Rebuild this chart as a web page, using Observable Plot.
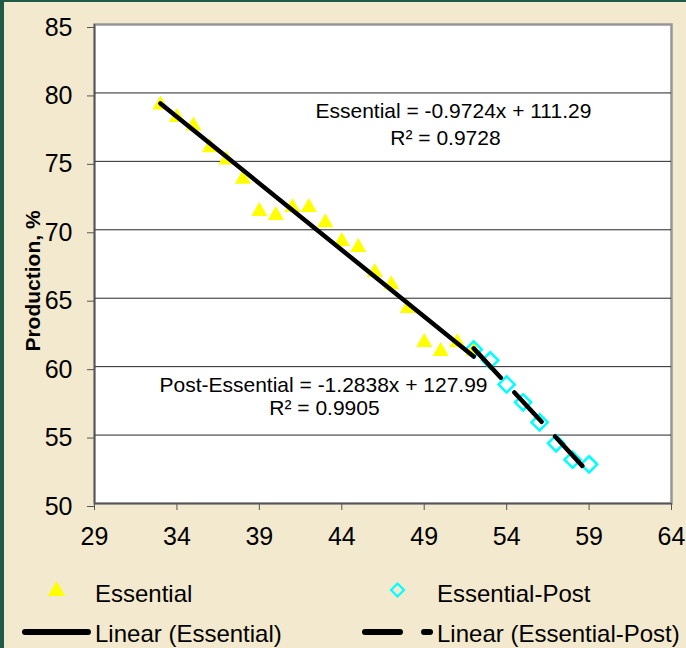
<!DOCTYPE html>
<html><head><meta charset="utf-8">
<script src="https://cdn.jsdelivr.net/npm/d3@7"></script>
<script src="https://cdn.jsdelivr.net/npm/@observablehq/plot@0.6"></script>
<style>
html,body{margin:0;padding:0;background:#F3E9CE;}
#wrap{position:relative;width:686px;height:648px;overflow:hidden;background:#F3E9CE;font-family:"Liberation Sans",Arial,sans-serif;}
#border{position:absolute;left:0;top:0;width:686px;height:648px;box-sizing:border-box;border-top:2px solid #1F5A46;border-left:4px solid #1F5A46;pointer-events:none;}
#chart{position:absolute;left:0;top:0;}
#legend{position:absolute;left:0;top:560px;}
</style></head><body>
<div id="wrap"><div id="chart"></div><svg id="legend" width="686" height="88"></svg><div id="border"></div></div>
<script>
// ---- data ----
const essentialX = [33,34,35,36,37,38,39,40,41,42,43,44,45,46,47,48,49,50,51,52];
const essentialY = [79.27,78.37,77.75,76.16,75.25,73.85,71.49,71.2,71.78,71.78,70.68,69.3,68.86,67.03,66.15,64.4,61.92,61.26,61.92,61.26];
const postX = [52,53,54,55,56,57,58,59];
const postY = [61.26,60.46,58.7,57.39,55.93,54.4,53.2,52.86];
const xTicks = [29,34,39,44,49,54,59,64];
const yTicks = [50,55,60,65,70,75,80,85];
const gridY = [55,60,65,70,75,80];
const yTitle = "Production, %";
const equationText = ["Essential = -0.9724x + 111.29","R\u00B2 = 0.9728","Post-Essential = -1.2838x + 127.99","R\u00B2 = 0.9905"];
const equationX = [50.77,50.29,42.89,42.95];
const equationY = [78.68,76.71,58.67,56.99];
const legendNames = ["Essential","Essential-Post","Linear (Essential)","Linear (Essential-Post)"];

// ---- tables ----
const essential = essentialX.map((x,i)=>({x, y: essentialY[i]}));
const post = postX.map((x,i)=>({x, y: postY[i]}));
const equations = equationText.map((t,i)=>({t, x: equationX[i], y: equationY[i]}));

const FONT = "'Liberation Sans', Arial, sans-serif";
const plot = Plot.plot({
  width: 686, height: 560,
  marginLeft: 94, marginRight: 15, marginTop: 24, marginBottom: 57,
  style: {background: "transparent", fontFamily: FONT, overflow: "visible", color: "#000"},
  x: {domain: [xTicks[0], xTicks[xTicks.length-1]]},
  y: {domain: [yTicks[0], yTicks[yTicks.length-1]]},
  marks: [
    Plot.frame({fill: "white", stroke: "#969696", strokeWidth: 2.5}),
    Plot.ruleY(gridY, {stroke: "#262626", strokeWidth: 1}),
    Plot.ruleX([xTicks[0]], {stroke: "#555", strokeWidth: 1.5}),
    Plot.ruleY([yTicks[0]], {stroke: "#555", strokeWidth: 1.5}),
    Plot.axisX({ticks: xTicks, tickSize: 7, tickPadding: 17, fontSize: 25, label: null, tickFormat: d => String(d), stroke: "#555"}),
    Plot.axisY({ticks: yTicks, tickSize: 7, tickPadding: 15, fontSize: 25, label: null, tickFormat: d => String(d), dy: 3, stroke: "#555"}),
    Plot.text([yTitle], {frameAnchor: "left", textAnchor: "middle", rotate: -90, dx: -61, dy: 17, fontSize: 21, fontWeight: "bold", fill: "#000"}),
    Plot.dot(essential, {x: "x", y: "y", symbol: "triangle", r: 6, fill: "#FFFF00", stroke: "none", dy: 2}),
    Plot.dot(post, {x: "x", y: "y", symbol: "diamond2", r: 7.3, fill: "none", stroke: "#00FFFF", strokeWidth: 2.5}),
    Plot.linearRegressionY(essential, {x: "x", y: "y", ci: 0, stroke: "#000", strokeWidth: 4.5}),
    Plot.linearRegressionY(post, {x: "x", y: "y", ci: 0, stroke: "#000", strokeWidth: 4.5, strokeDasharray: "40,20"}),
    Plot.text(equations, {x: "x", y: "y", text: "t", fontSize: 21, fill: "#000", textAnchor: "middle"})
  ]
});
document.getElementById("chart").appendChild(plot);

// ---- legend ----
const lg = d3.select("#legend");
const tri = d3.symbol(d3.symbolTriangle, 130)();
lg.append("path").attr("d", tri).attr("transform", "translate(56.5,31)").attr("fill", "#FFFF00");
lg.append("path").attr("d", "M0,-6.5L6.5,0L0,6.5L-6.5,0Z").attr("transform", "translate(397.5,30)")
  .attr("fill", "none").attr("stroke", "#00FFFF").attr("stroke-width", 2.2);
lg.append("line").attr("x1", 25).attr("x2", 88).attr("y1", 72).attr("y2", 72)
  .attr("stroke", "#000").attr("stroke-width", 6).attr("stroke-linecap", "round");
lg.append("line").attr("x1", 365).attr("x2", 400).attr("y1", 72).attr("y2", 72)
  .attr("stroke", "#000").attr("stroke-width", 6).attr("stroke-linecap", "round");
lg.append("line").attr("x1", 424).attr("x2", 430).attr("y1", 72).attr("y2", 72)
  .attr("stroke", "#000").attr("stroke-width", 6).attr("stroke-linecap", "round");
const lpos = [[95, 41.5], [437, 41.5], [95, 81.5], [437, 81.5]];
legendNames.forEach((n, i) => {
  lg.append("text").attr("x", lpos[i][0]).attr("y", lpos[i][1])
    .attr("font-family", FONT).attr("font-size", 24).attr("fill", "#000").text(n);
});
</script>
</body></html>
